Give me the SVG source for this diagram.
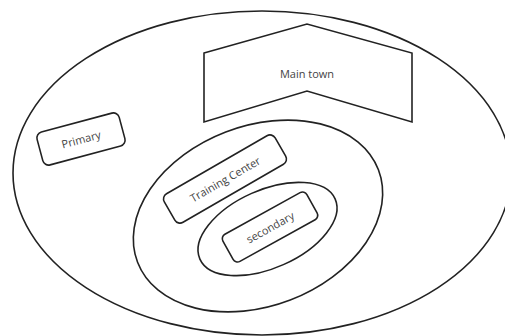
<svg xmlns="http://www.w3.org/2000/svg" width="505" height="336" viewBox="0 0 505 336">
<style>
.s{fill:none;stroke:#222;stroke-width:1.6}
.b{fill:#fff;stroke:#222;stroke-width:1.6}
.t{font-family:"Open Sans","Liberation Sans",sans-serif;font-size:11px;fill:#444;text-anchor:middle;dominant-baseline:central}
</style>
<rect width="505" height="336" fill="#fff"/>
<g id="region">
<ellipse class="s" cx="262" cy="173" rx="249" ry="162"/>
</g>
<g id="main-town">
<polygon class="b" points="204,53 307,24 412,53 412,122 307,91 204,122"/>
<text class="t" x="307" y="73">Main town</text>
</g>
<g id="primary" transform="translate(81,139) rotate(-15)">
<rect class="b" x="-42.5" y="-17" width="85" height="34" rx="6"/>
<text class="t" x="0" y="0">Primary</text>
</g>
<g id="training-area">
<ellipse class="s" cx="258" cy="216" rx="129" ry="90" transform="rotate(-21 258 216)"/>
</g>
<g id="training-center" transform="translate(225,179) rotate(-30)">
<rect class="b" x="-64" y="-16.5" width="128" height="33" rx="6"/>
<text class="t" x="0" y="0">Training Center</text>
</g>
<g id="secondary-area">
<ellipse class="s" cx="267.5" cy="229" rx="74" ry="39" transform="rotate(-24 267.5 229)"/>
</g>
<g id="secondary" transform="translate(270,227) rotate(-29)">
<rect class="b" x="-48" y="-15.5" width="96" height="31" rx="5"/>
<text class="t" x="0" y="0">secondary</text>
</g>
<g id="connectors"></g>
</svg>
